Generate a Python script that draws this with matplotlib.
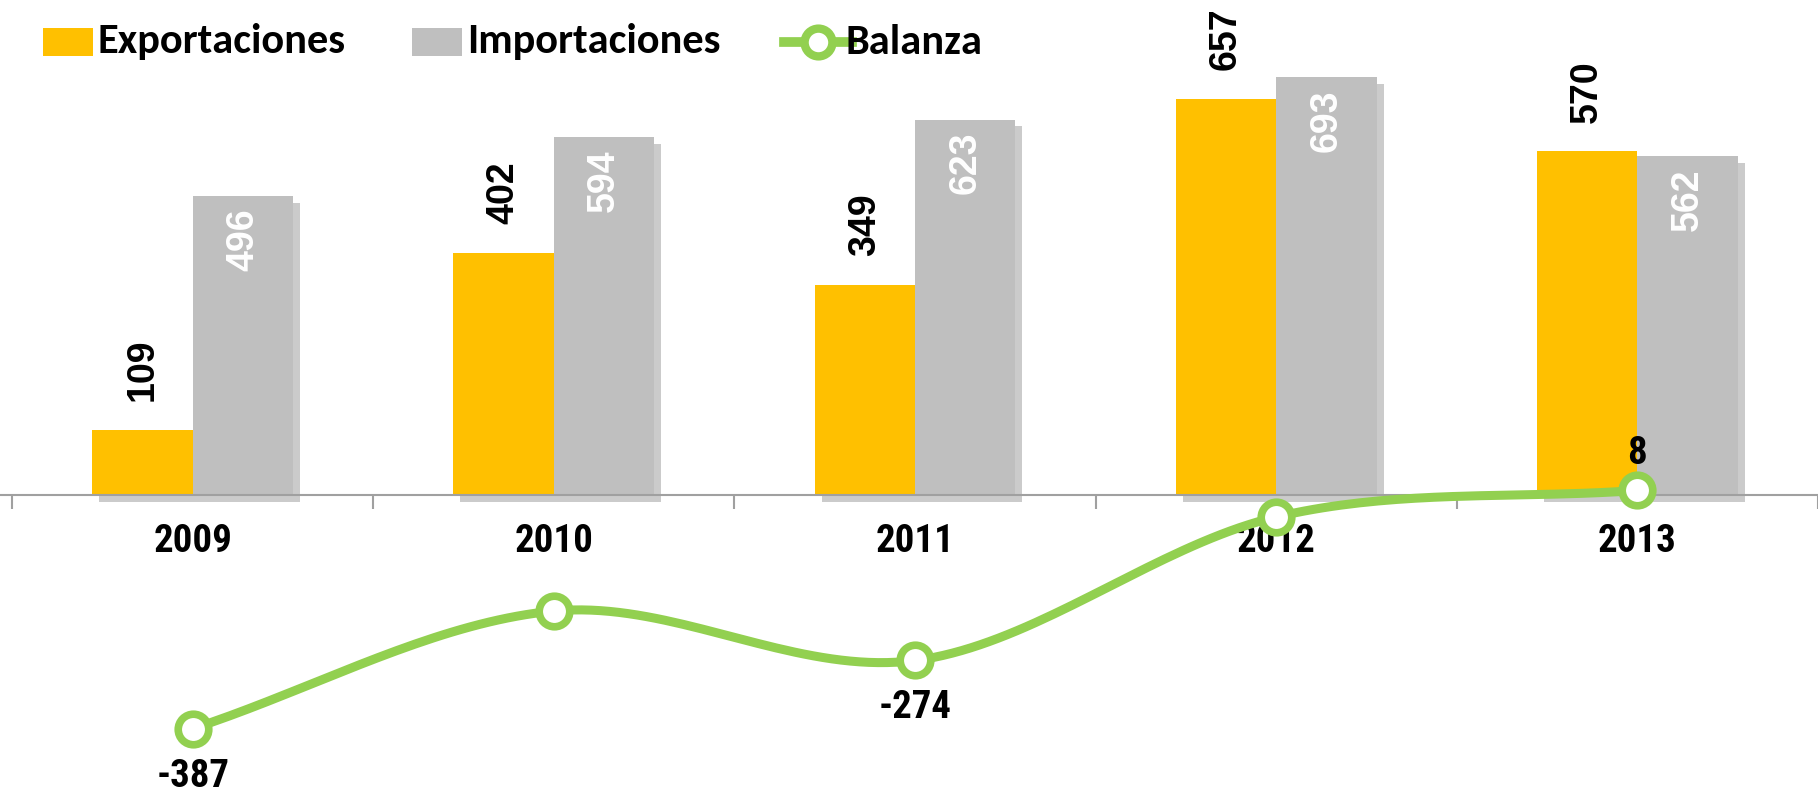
import matplotlib
matplotlib.use("Agg")
import matplotlib.pyplot as plt
import matplotlib.patheffects as pe
from matplotlib.patches import Rectangle
from matplotlib.lines import Line2D
import numpy as np

years = ["2009", "2010", "2011", "2012", "2013"]
exportaciones = [109, 402, 349, 657, 570]
importaciones = [496, 594, 623, 693, 562]
balanza = [-387, -192, -274, -36, 8]
balanza_labels = ["-387", "", "-274", "", "8"]
series_names = ["Exportaciones", "Importaciones", "Balanza"]

C_EXP = "#FFC000"
C_IMP = "#BFBFBF"
C_BAL = "#92D050"

W, H, DPI = 1818, 791, 100
fig = plt.figure(figsize=(W / DPI, H / DPI), dpi=DPI)
ax = fig.add_axes([0, 0, 1, 1])

px_per_cat = 313 / 1568
x0 = 167 / 1568
ax.set_xlim(-x0 / px_per_cat, (1 - x0) / px_per_cat)
py_per_unit = 0.52 / 682
y0 = 1 - 427 / 682
ax.set_ylim(-y0 / py_per_unit, (1 - y0) / py_per_unit)

x = np.arange(len(years))
bw = 87 / 313
shadow = [pe.SimplePatchShadow(offset=(5, -5), alpha=0.3, shadow_rgbFace="#555555"), pe.Normal()]
ax.bar(x - bw / 2, exportaciones, bw, color=C_EXP, zorder=3, path_effects=shadow)
ax.bar(x + bw / 2, importaciones, bw, color=C_IMP, zorder=3, path_effects=shadow)

lab_font = dict(fontsize=27, fontweight="bold", family=["Liberation Sans", "DejaVu Sans"], rotation=90)
for xi, v in zip(x, exportaciones):
    ax.text(xi - bw / 2, v + 48, str(v), ha="center", va="bottom", color="black", zorder=5, **lab_font)
for xi, v in zip(x, importaciones):
    ax.text(xi + bw / 2, v - 20, str(v), ha="center", va="top", color="white", zorder=5, **lab_font)

# smooth curve through the data points (Catmull-Rom, screen-proportional space)
sx = 363.0
sy = 0.603
P = np.column_stack([x * sx, np.array(balanza, float) * sy])
Pe = np.vstack([P[0] - (P[1] - P[0]), P, P[-1] + (P[-1] - P[-2])])
curve = []
t = np.linspace(0, 1, 40)
for i in range(1, len(Pe) - 2):
    p0, p1, p2, p3 = Pe[i - 1], Pe[i], Pe[i + 1], Pe[i + 2]
    c1 = p1 + (p2 - p0) / 6
    c2 = p2 - (p3 - p1) / 6
    seg = ((1 - t) ** 3)[:, None] * p1 + (3 * (1 - t) ** 2 * t)[:, None] * c1 \
        + (3 * (1 - t) * t ** 2)[:, None] * c2 + (t ** 3)[:, None] * p2
    curve.append(seg)
curve = np.vstack(curve)
ax.plot(curve[:, 0] / sx, curve[:, 1] / sy, color=C_BAL, lw=6.5, zorder=6, solid_capstyle="round")
ax.plot(x, balanza, ls="none", marker="o", ms=22, mfc="white", mec=C_BAL, mew=5.5, zorder=7)

nar = ["Roboto Condensed", "Liberation Sans", "DejaVu Sans"]
for xi, v, s in zip(x, balanza, balanza_labels):
    if not s:
        continue
    if v >= 0:
        ax.text(xi, v + 30, s, ha="center", va="bottom", fontsize=28, fontweight="bold", family=nar, zorder=8)
    else:
        ax.text(xi, v - 48, s, ha="center", va="top", fontsize=28, fontweight="bold", family=nar, zorder=8)

for s in ["top", "right", "left"]:
    ax.spines[s].set_visible(False)
ax.spines["bottom"].set_position(("data", 0))
ax.spines["bottom"].set_color("#A0A0A0")
ax.spines["bottom"].set_linewidth(1.5)
ax.spines["bottom"].set_zorder(4)
ax.set_yticks([])
ax.set_xticks(x)
ax.set_xticklabels(years, fontsize=28, fontweight="bold", family=nar)
ax.tick_params(axis="x", which="major", length=0, pad=20)
ax.set_xticks(np.arange(-0.5, len(years), 1.0), minor=True)
ax.tick_params(axis="x", which="minor", length=10, width=1.5, color="#A0A0A0", direction="out")
ax.patch.set_visible(False)

# legend (drawn in figure pixel coordinates)
def fx(p):
    return p / W

def fy(p):
    return 1 - p / H

leg_font = dict(fontsize=30.5, fontweight="bold", family=["Carlito", "Liberation Sans", "DejaVu Sans"], va="center", ha="left")
yc = 42
for (xs, col), name in zip([(43, C_EXP), (412, C_IMP)], series_names[:2]):
    fig.add_artist(Rectangle((fx(xs), fy(yc + 14)), fx(50), 28 / H, transform=fig.transFigure,
                             facecolor=col, edgecolor="none"))
    fig.text(fx(xs + 55), fy(yc), name, **leg_font)
fig.add_artist(Line2D([fx(784), fx(852)], [fy(yc), fy(yc)], transform=fig.transFigure, color=C_BAL, lw=7))
fig.add_artist(Line2D([fx(818)], [fy(yc)], transform=fig.transFigure, marker="o", ms=20, mfc="white",
                      mec=C_BAL, mew=6, ls="none"))
fig.text(fx(846), fy(yc), series_names[2], **leg_font)

fig.savefig("out.png", dpi=DPI)
